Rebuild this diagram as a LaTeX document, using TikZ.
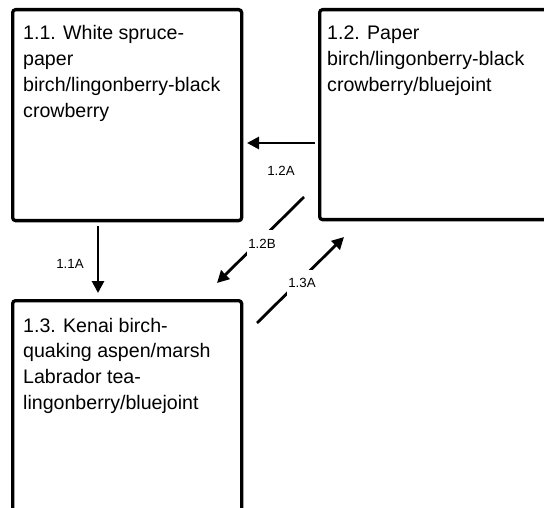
\documentclass[tikz,border=0pt]{standalone}
\usepackage{fontspec}
\setmainfont{Liberation Sans}
\usetikzlibrary{arrows.meta}
\begin{document}
\begin{tikzpicture}[x=1pt,y=-1pt,
  box/.style={draw,line width=3.3pt,rounded corners=3pt,inner sep=0pt,anchor=north west},
  boxtext/.style={anchor=base west,align=left,inner sep=0pt,font=\fontsize{19.6}{25.7}\selectfont},
  arr/.style={line width=2.8pt,-{Triangle[length=12pt,width=12pt]}},
  lab/.style={font=\fontsize{13.3}{15}\selectfont,inner sep=1pt},
  cutlab/.style={lab,fill=white,minimum height=27pt,minimum width=24pt}]
\useasboundingbox (0,0) rectangle (544,508);
\clip (0,0) rectangle (544,508);
\node[box,minimum width=229pt,minimum height=211pt] (b11) at (11,8) {};
\node[box,minimum width=250pt,minimum height=210pt] (b12) at (318,8) {};
\node[box,minimum width=229pt,minimum height=230pt] (b13) at (11,299) {};
% base anchor of a multi-line node is the baseline of its last line
\node[boxtext] (t11) at (23,117.1) {1.1. White spruce-\\paper\\birch/lingonberry-black\\crowberry};
\node[boxtext] (t12) at (327,91.4) {1.2. Paper\\birch/lingonberry-black\\crowberry/bluejoint};
\node[boxtext] (t13) at (23,409.1) {1.3. Kenai birch-\\quaking aspen/marsh\\Labrador tea-\\lingonberry/bluejoint};
\coordinate (a1s) at (98,226); \coordinate (a1e) at (98,293);
\coordinate (a2s) at (315,143); \coordinate (a2e) at (247,143);
\coordinate (a3s) at (304,197); \coordinate (a3e) at (217,283);
\coordinate (a4s) at (257,323); \coordinate (a4e) at (344,237);
\draw[arr] (a1s) -- (a1e);
\draw[arr] (a2s) -- (a2e);
\draw[arr] (a3s) -- (a3e);
\draw[arr] (a4s) -- (a4e);
\node[lab] (l11) at (70,264) {1.1A};
\node[lab] (l12a) at (281,171) {1.2A};
\node[cutlab] (l12b) at (262,244) {1.2B};
\node[cutlab] (l13a) at (302,283) {1.3A};
\end{tikzpicture}
\end{document}
